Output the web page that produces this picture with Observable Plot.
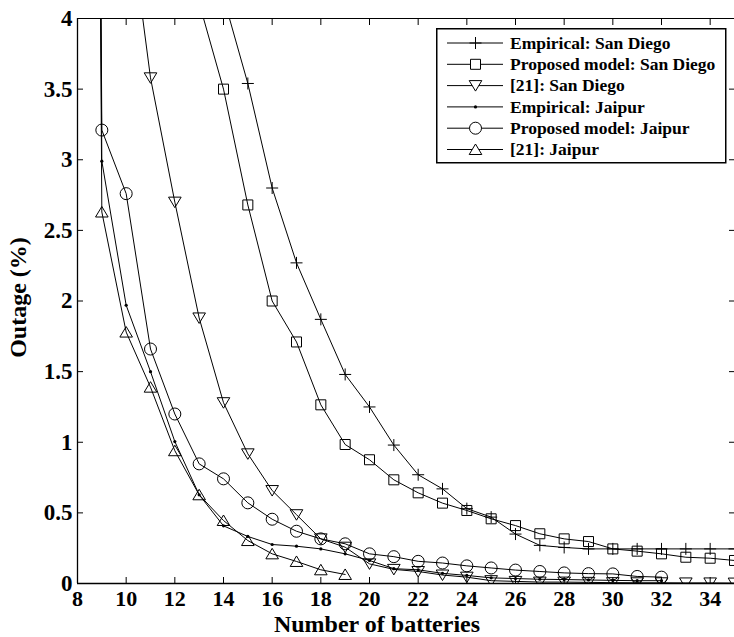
<!DOCTYPE html>
<html><head><meta charset="utf-8">
<script src="https://cdn.jsdelivr.net/npm/d3@7"></script>
<script src="https://cdn.jsdelivr.net/npm/@observablehq/plot@0.6"></script>
<style>
html,body{margin:0;padding:0;background:#fff;}
#wrap{position:relative;width:734px;height:637px;overflow:hidden;background:#fff;}
#legend{position:absolute;left:436px;top:28px;}
</style></head><body><div id="wrap"></div>
<script>
// ---------- data ----------
const xTicks = [8, 10, 12, 14, 16, 18, 20, 22, 24, 26, 28, 30, 32, 34];
const yTicks = [0, 0.5, 1, 1.5, 2, 2.5, 3, 3.5, 4];
const xTitle = "Number of batteries";
const yTitle = "Outage (%)";

const seriesNames = ["Empirical: San Diego", "Proposed model: San Diego", "[21]: San Diego",
                     "Empirical: Jaipur", "Proposed model: Jaipur", "[21]: Jaipur"];

const empSD_n = [14,15,16,17,18,19,20,21,22,23,24,25,26,27,28,29,30,31,32,33,34,35];
const empSD_v = [4.15,3.54,2.80,2.27,1.87,1.48,1.25,0.98,0.77,0.67,0.53,0.47,0.35,0.27,0.255,0.245,0.245,0.245,0.245,0.245,0.245,0.245];

const propSD_n = [13,14,15,16,17,18,19,20,21,22,23,24,25,26,27,28,29,30,31,32,33,34,35];
const propSD_v = [4.11,3.50,2.68,2.00,1.71,1.265,0.984,0.876,0.734,0.642,0.569,0.517,0.458,0.41,0.352,0.316,0.297,0.245,0.229,0.21,0.186,0.179,0.163];

const refSD_n = [10,11,12,13,14,15,16,17,18,19,20,21,22,23,24,25,26,27,28,29,30,31,32,33,34,35];
const refSD_v = [4.9,3.58,2.70,1.88,1.28,0.918,0.658,0.487,0.316,0.257,0.139,0.10,0.085,0.06,0.045,0.02,0.015,0.01,0.01,0.008,0.006,0.005,0.005,0.004,0.004,0.003];

const empJP_n = [8,9,10,11,12,13,14,15,16,17,18,19,20,21,22,23,24,25,26,27,28,29,30,31,32];
const empJP_v = [30,2.99,1.97,1.50,1.005,0.628,0.408,0.333,0.276,0.264,0.245,0.21,0.163,0.105,0.097,0.072,0.057,0.04,0.035,0.03,0.028,0.025,0.022,0.02,0.02];

const propJP_n = [8,9,10,11,12,13,14,15,16,17,18,19,20,21,22,23,24,25,26,27,28,29,30,31,32];
const propJP_v = [30,3.21,2.76,1.66,1.20,0.847,0.741,0.571,0.455,0.37,0.316,0.281,0.21,0.19,0.157,0.145,0.125,0.11,0.095,0.085,0.075,0.07,0.068,0.05,0.045];

const refJP_n = [8,9,10,11,12,13,14,15,16,17,18,19];
const refJP_v = [30,2.63,1.78,1.39,0.94,0.628,0.446,0.304,0.21,0.156,0.097,0.064];

// ---------- marker shapes ----------
const plusSym = {draw(c){c.moveTo(-6,0);c.lineTo(6,0);c.moveTo(0,-6);c.lineTo(0,6);}};
const squareSym = {draw(c){c.moveTo(-5,-5);c.lineTo(5,-5);c.lineTo(5,5);c.lineTo(-5,5);c.closePath();}};
const downTri = {draw(c){c.moveTo(-6.3,-5);c.lineTo(6.3,-5);c.lineTo(0,5.5);c.closePath();}};
const dotSym = {draw(c){c.moveTo(1.6,0);c.arc(0,0,1.6,0,2*Math.PI);}};
const circSym = {draw(c){c.moveTo(6,0);c.arc(0,0,6,0,2*Math.PI);}};
const upTri = {draw(c){c.moveTo(-6.3,5);c.lineTo(6.3,5);c.lineTo(0,-5.5);c.closePath();}};

const series = [
  {name: seriesNames[0], n: empSD_n, v: empSD_v, sym: plusSym, fill: "none"},
  {name: seriesNames[1], n: propSD_n, v: propSD_v, sym: squareSym, fill: "none"},
  {name: seriesNames[2], n: refSD_n, v: refSD_v, sym: downTri, fill: "none"},
  {name: seriesNames[3], n: empJP_n, v: empJP_v, sym: dotSym, fill: "black"},
  {name: seriesNames[4], n: propJP_n, v: propJP_v, sym: circSym, fill: "none"},
  {name: seriesNames[5], n: refJP_n, v: refJP_v, sym: upTri, fill: "none"}
];
const tables = series.map(s => s.n.map((n, i) => ({n, v: s.v[i], name: s.name})));

const font = "'Liberation Serif', 'Times New Roman', serif";
const xTickText = {fontFamily: font, fontSize: 22, fontWeight: "bold", fill: "black"};
const yTickText = {fontFamily: font, fontSize: 23, fontWeight: "bold", fill: "black"};

const marks = [
  Plot.ruleY([0], {stroke: "black", strokeWidth: 1.3}),
  Plot.ruleY([4], {stroke: "black", strokeWidth: 1.1}),
  Plot.ruleX([8], {stroke: "black", strokeWidth: 1.3}),
  Plot.axisX({anchor: "bottom", ticks: xTicks, tickSize: 0, tickPadding: 7, label: null, tickFormat: d => String(d), ...xTickText}),
  Plot.axisX({anchor: "bottom", ticks: xTicks, tickSize: -6, fill: "none", label: null}),
  Plot.axisX({anchor: "top", ticks: xTicks, tickSize: -6, fill: "none", label: null}),
  Plot.axisY({anchor: "left", ticks: yTicks, tickSize: 0, tickPadding: 5, label: null, tickFormat: d => String(d), ...yTickText}),
  Plot.axisY({anchor: "left", ticks: yTicks, tickSize: -6, fill: "none", label: null}),
  Plot.axisY({anchor: "right", ticks: yTicks, tickSize: -6, fill: "none", label: null})
];
tables.forEach((t, k) => {
  marks.push(Plot.line(t, {x: "n", y: "v", stroke: "black", strokeWidth: 1, clip: true}));
  marks.push(Plot.dot(t, {x: "n", y: "v", symbol: series[k].sym, stroke: series[k].fill === "none" ? "black" : "none",
    fill: series[k].fill, strokeWidth: 1, clip: true}));
});
marks.push(Plot.text([xTitle], {frameAnchor: "bottom", textAnchor: "middle", dx: -29, dy: 48.8, lineAnchor: "bottom",
  fontSize: 24, fontWeight: "bold", fontFamily: font, fill: "black"}));
marks.push(Plot.text([yTitle], {frameAnchor: "left", textAnchor: "middle", rotate: -90, dx: -59, dy: -3.5, lineAnchor: "middle",
  fontSize: 24, fontWeight: "bold", fontFamily: font, fill: "black"}));

const chart = Plot.plot({
  width: 734, height: 637,
  marginLeft: 77, marginRight: 0, marginTop: 18, marginBottom: 54,
  x: {domain: [8, 35], label: null},
  y: {domain: [0, 4], label: null},
  style: {fontFamily: font, fontSize: "23px", fontWeight: "bold", color: "black", background: "white", overflow: "visible"},
  marks
});
const wrap = document.getElementById("wrap");
wrap.appendChild(chart);

// ---------- legend ----------
const lw = 289, lh = 134;
const leg = d3.select(wrap).append("svg").attr("id", "legend")
  .attr("width", lw + 2).attr("height", lh + 2);
leg.append("rect").attr("x", 0.75).attr("y", 0.75).attr("width", lw).attr("height", lh)
  .attr("fill", "white").attr("stroke", "black").attr("stroke-width", 1.5);
series.forEach((s, i) => {
  const cy = 15 + i * 21.3;
  const g = leg.append("g");
  g.append("line").attr("x1", 11).attr("x2", 67).attr("y1", cy).attr("y2", cy).attr("stroke", "black").attr("stroke-width", 1);
  g.append("path").attr("d", d3.symbol(s.sym)()).attr("transform", `translate(39.5,${cy})`)
    .attr("fill", s.fill === "none" ? "white" : "black").attr("stroke", s.fill === "none" ? "black" : "none");
  g.append("text").attr("x", 74).attr("y", cy + 5.8).text(s.name)
    .attr("font-family", font).attr("font-weight", "bold").attr("font-size", 17.5).attr("fill", "black");
});
</script>
</body></html>
